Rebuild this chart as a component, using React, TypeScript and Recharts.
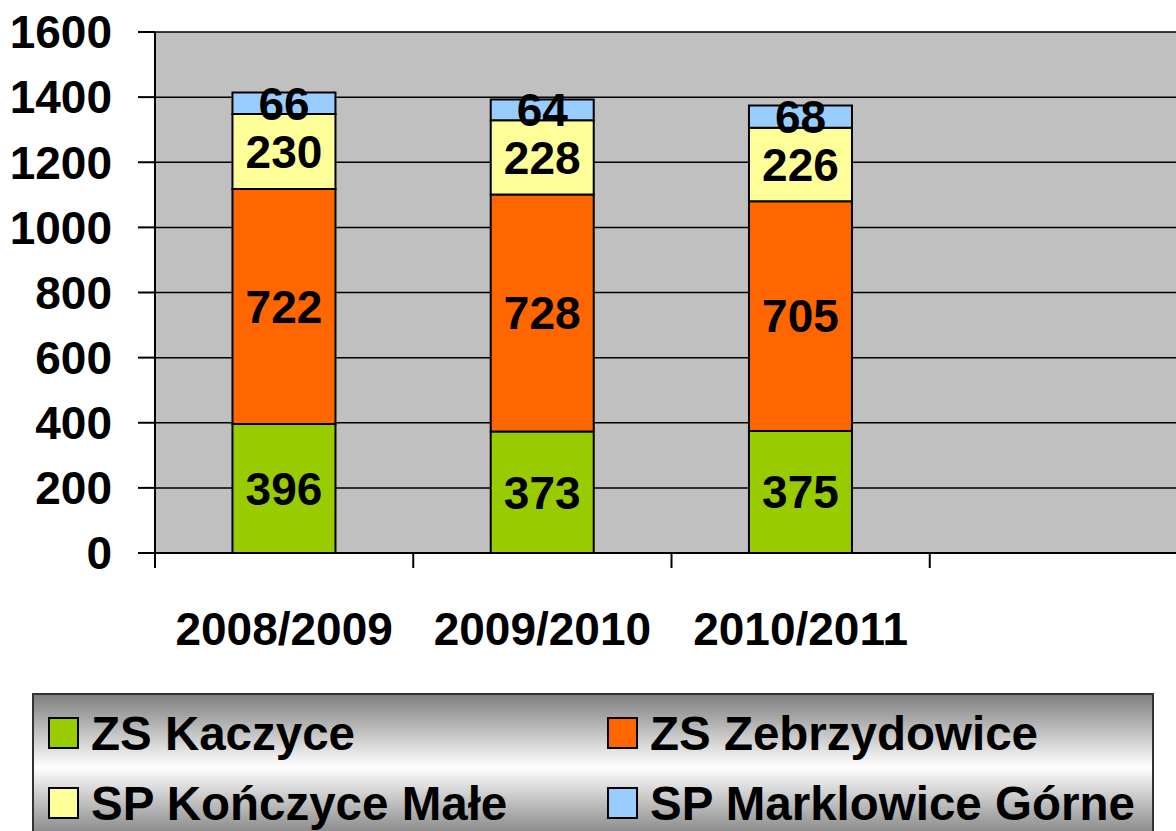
import React from "react";
import {
  BarChart,
  Bar,
  XAxis,
  YAxis,
  CartesianGrid,
  LabelList,
} from "recharts";

// school years; the fourth slot is empty in the original chart
const seasons = ["2008/2009", "2009/2010", "2010/2011", ""];
const zsKaczyce = [396, 373, 375, null];
const zsZebrzydowice = [722, 728, 705, null];
const spKonczyceMale = [230, 228, 226, null];
const spMarklowiceGorne = [66, 64, 68, null];
const yTicks = [0, 200, 400, 600, 800, 1000, 1200, 1400, 1600];

const seriesNames = [
  "ZS Kaczyce",
  "ZS Zebrzydowice",
  "SP Kończyce Małe",
  "SP Marklowice Górne",
];
const seriesKeys = ["kaczyce", "zebrzydowice", "konczyce", "marklowice"];
const seriesColors = ["#99cc00", "#ff6600", "#ffff99", "#99ccff"];

const data = seasons.map((season, i) => ({
  season,
  kaczyce: zsKaczyce[i],
  zebrzydowice: zsZebrzydowice[i],
  konczyce: spKonczyceMale[i],
  marklowice: spMarklowiceGorne[i],
}));

const FONT = "'Liberation Sans', Arial, sans-serif";
const CHART_W = 1200;
const CHART_H = 700;
const Y_AXIS_W = 155;
const MARGIN = { top: 32, right: 12, left: 0, bottom: 27 };
const BAND = (CHART_W - Y_AXIS_W - MARGIN.left - MARGIN.right) / seasons.length;

const CategoryTick = (props: any) => {
  const { x, y, payload } = props;
  const left = x - BAND / 2;
  return (
    <g>
      <line x1={left} x2={left} y1={y} y2={y + 15} stroke="#000" strokeWidth={2} />
      <text
        x={x}
        y={y + 92}
        textAnchor="middle"
        fontFamily={FONT}
        fontWeight="bold"
        fontSize={46}
        fill="#000"
      >
        {payload.value}
      </text>
    </g>
  );
};

const LegendBox = () => (
  <div
    style={{
      position: "absolute",
      left: 32,
      top: 693,
      width: 1122,
      height: 148,
      boxSizing: "border-box",
      border: "2px solid #333",
      background: "linear-gradient(to bottom, #7f7f7f 0%, #ffffff 50%, #7f7f7f 100%)",
    }}
  >
    {seriesNames.map((name, i) => {
      const col = i % 2;
      const row = Math.floor(i / 2);
      return (
        <div
          key={name}
          style={{
            position: "absolute",
            left: 14 + col * 559,
            top: 18 + row * 70,
            height: 40,
            display: "flex",
            alignItems: "center",
            fontFamily: FONT,
            fontWeight: "bold",
            fontSize: 47.5,
            color: "#000",
            whiteSpace: "nowrap",
          }}
        >
          <span
            style={{
              display: "inline-block",
              flexShrink: 0,
              width: 27,
              height: 28,
              background: seriesColors[i],
              border: "2px solid #000",
              marginRight: 12,
            }}
          />
          {name}
        </div>
      );
    })}
  </div>
);

export default function App() {
  return (
    <div
      style={{
        position: "absolute",
        left: 0,
        top: 0,
        width: 1176,
        height: 831,
        overflow: "hidden",
        background: "#fff",
      }}
    >
      <BarChart
        width={CHART_W}
        height={CHART_H}
        data={data}
        margin={MARGIN}
        barCategoryGap="30%"
      >
        <CartesianGrid
          vertical={false}
          stroke="#000"
          strokeWidth={1.5}
          fill="#c0c0c0"
          fillOpacity={1}
        />
        <XAxis
          dataKey="season"
          height={120}
          axisLine={{ stroke: "#000", strokeWidth: 2 }}
          tickLine={false}
          tickSize={0}
          tickMargin={0}
          tick={<CategoryTick />}
          interval={0}
        />
        <YAxis
          width={Y_AXIS_W}
          domain={[0, 1600]}
          ticks={yTicks}
          interval={0}
          axisLine={{ stroke: "#000", strokeWidth: 2 }}
          tickLine={{ stroke: "#000", strokeWidth: 2 }}
          tickSize={17}
          tickMargin={26}
          tick={{ fill: "#000", fontSize: 46, fontWeight: "bold", fontFamily: FONT }}
        />
        {seriesKeys.map((key, i) => (
          <Bar
            key={key}
            dataKey={key}
            name={seriesNames[i]}
            stackId="a"
            fill={seriesColors[i]}
            stroke="#000"
            strokeWidth={2}
            isAnimationActive={false}
          >
            <LabelList
              dataKey={key}
              position="center"
              fill="#000"
              fontSize={46}
              fontWeight="bold"
              fontFamily={FONT}
            />
          </Bar>
        ))}
      </BarChart>
      <LegendBox />
    </div>
  );
}
